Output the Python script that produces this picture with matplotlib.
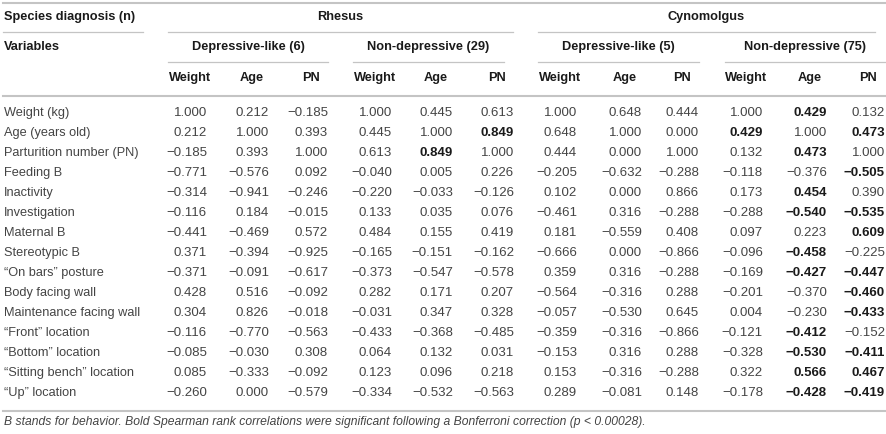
import matplotlib.pyplot as plt

plt.rcParams['font.family'] = ['Liberation Sans', 'DejaVu Sans']

variables = [
    "Weight (kg)",
    "Age (years old)",
    "Parturition number (PN)",
    "Feeding B",
    "Inactivity",
    "Investigation",
    "Maternal B",
    "Stereotypic B",
    "\u201cOn bars\u201d posture",
    "Body facing wall",
    "Maintenance facing wall",
    "\u201cFront\u201d location",
    "\u201cBottom\u201d location",
    "\u201cSitting bench\u201d location",
    "\u201cUp\u201d location",
]

# rhesus, depressive-like (6)
rh_dl_weight = [1.000, 0.212, -0.185, -0.771, -0.314, -0.116, -0.441, 0.371, -0.371, 0.428, 0.304, -0.116, -0.085, 0.085, -0.260]
rh_dl_age = [0.212, 1.000, 0.393, -0.576, -0.941, 0.184, -0.469, -0.394, -0.091, 0.516, 0.826, -0.770, -0.030, -0.333, 0.000]
rh_dl_pn = [-0.185, 0.393, 1.000, 0.092, -0.246, -0.015, 0.572, -0.925, -0.617, -0.092, -0.018, -0.563, 0.308, -0.092, -0.579]
# rhesus, non-depressive (29)
rh_nd_weight = [1.000, 0.445, 0.613, -0.040, -0.220, 0.133, 0.484, -0.165, -0.373, 0.282, -0.031, -0.433, 0.064, 0.123, -0.334]
rh_nd_age = [0.445, 1.000, 0.849, 0.005, -0.033, 0.035, 0.155, -0.151, -0.547, 0.171, 0.347, -0.368, 0.132, 0.096, -0.532]
rh_nd_pn = [0.613, 0.849, 1.000, 0.226, -0.126, 0.076, 0.419, -0.162, -0.578, 0.207, 0.328, -0.485, 0.031, 0.218, -0.563]
# cynomolgus, depressive-like (5)
cy_dl_weight = [1.000, 0.648, 0.444, -0.205, 0.102, -0.461, 0.181, -0.666, 0.359, -0.564, -0.057, -0.359, -0.153, 0.153, 0.289]
cy_dl_age = [0.648, 1.000, 0.000, -0.632, 0.000, 0.316, -0.559, 0.000, 0.316, -0.316, -0.530, -0.316, 0.316, -0.316, -0.081]
cy_dl_pn = [0.444, 0.000, 1.000, -0.288, 0.866, -0.288, 0.408, -0.866, -0.288, 0.288, 0.645, -0.866, 0.288, -0.288, 0.148]
# cynomolgus, non-depressive (75)
cy_nd_weight = [1.000, 0.429, 0.132, -0.118, 0.173, -0.288, 0.097, -0.096, -0.169, -0.201, 0.004, -0.121, -0.328, 0.322, -0.178]
cy_nd_age = [0.429, 1.000, 0.473, -0.376, 0.454, -0.540, 0.223, -0.458, -0.427, -0.370, -0.230, -0.412, -0.530, 0.566, -0.428]
cy_nd_pn = [0.132, 0.473, 1.000, -0.505, 0.390, -0.535, 0.609, -0.225, -0.447, -0.460, -0.433, -0.152, -0.411, 0.467, -0.419]

columns = [rh_dl_weight, rh_dl_age, rh_dl_pn, rh_nd_weight, rh_nd_age, rh_nd_pn,
           cy_dl_weight, cy_dl_age, cy_dl_pn, cy_nd_weight, cy_nd_age, cy_nd_pn]
col_names = ["Weight", "Age", "PN"] * 4

# significant (bold) cells: (row, column)
bold_cells = [
    (2, 4), (1, 5),
    (1, 9),
    (0, 10), (2, 10), (4, 10), (5, 10), (7, 10), (8, 10), (11, 10), (12, 10), (13, 10), (14, 10),
    (1, 11), (3, 11), (5, 11), (6, 11), (8, 11), (9, 11), (10, 11), (12, 11), (13, 11), (14, 11),
]

species = ["Rhesus", "Cynomolgus"]
groups = ["Depressive-like (6)", "Non-depressive (29)", "Depressive-like (5)", "Non-depressive (75)"]
footnote = ("B stands for behavior. Bold Spearman rank correlations were significant "
            "following a Bonferroni correction (p < 0.00028).")

# layout (pixels)
col_right = [207, 269, 328, 392, 453, 514, 577, 642, 699, 763, 827, 885]
species_span = [(168, 513), (538, 875)]
group_span = [(168, 328), (353, 504), (538, 699), (725, 885)]
row_y0, row_dy = 113, 20

txt = '#444444'
hdr = '#1a1a1a'
rule = '#c4c4c4'
fs = 9.2
fs_num = 9.5

fig = plt.figure(figsize=(8.87, 4.34), dpi=100)
ax = fig.add_axes([0, 0, 1, 1])
ax.set_xlim(0, 887)
ax.set_ylim(434, 0)
ax.axis('off')

# rules
ax.plot([3, 885], [3, 3], color=rule, lw=1.5)
ax.plot([3, 143], [32, 32], color=rule, lw=0.9)
for x0, x1 in species_span:
    ax.plot([x0, x1], [32, 32], color=rule, lw=0.9)
for x0, x1 in group_span:
    ax.plot([x0, x1], [62, 62], color=rule, lw=0.9)
ax.plot([3, 885], [96, 96], color=rule, lw=1.5)
ax.plot([3, 885], [411, 411], color=rule, lw=1.5)

# headers
ax.text(4, 17, "Species diagnosis (n)", fontsize=fs, fontweight='bold', color=hdr, va='center')
ax.text(4, 47, "Variables", fontsize=fs, fontweight='bold', color=hdr, va='center')
for name, (x0, x1) in zip(species, species_span):
    ax.text((x0 + x1) / 2, 17, name, fontsize=fs, fontweight='bold', color=hdr, ha='center', va='center')
for name, (x0, x1) in zip(groups, group_span):
    ax.text((x0 + x1) / 2, 47, name, fontsize=fs, fontweight='bold', color=hdr, ha='center', va='center')
for name, xr in zip(col_names, col_right):
    ax.text(xr - 17, 78, name, fontsize=fs, fontweight='bold', color=hdr, ha='center', va='center')

# body
for i, label in enumerate(variables):
    y = row_y0 + i * row_dy
    ax.text(4, y, label, fontsize=fs, color=txt, va='center')
    for j, col in enumerate(columns):
        s = format(col[i], '.3f').replace('-', '\u2212')
        if (i, j) in bold_cells:
            ax.text(col_right[j], y, s, fontsize=fs_num, fontweight='bold', color=hdr, ha='right', va='center')
        else:
            ax.text(col_right[j], y, s, fontsize=fs_num, color=txt, ha='right', va='center')

ax.text(4, 422, footnote, fontsize=8.7, style='italic', color=txt, va='center')

fig.savefig('out.png', dpi=100)
